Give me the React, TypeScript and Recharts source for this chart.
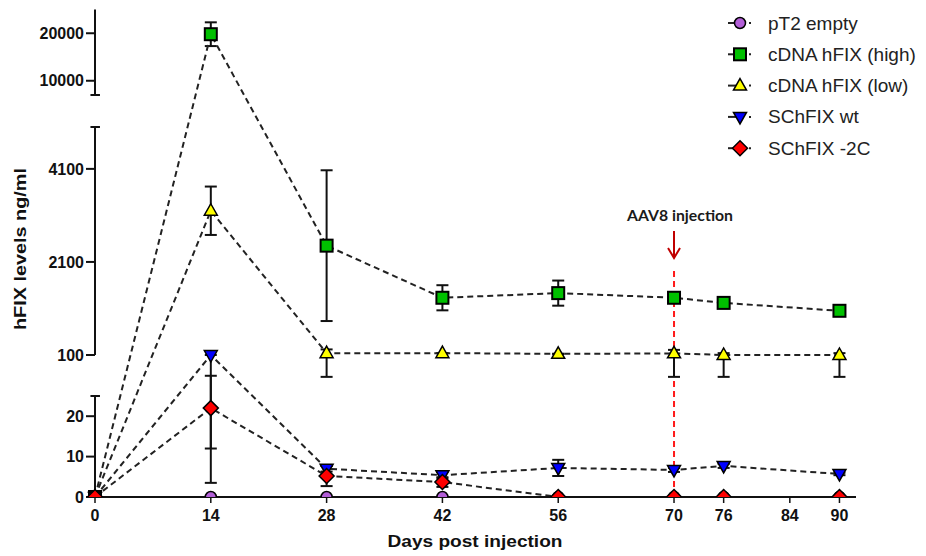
import React from 'react';
import { LineChart, Line, XAxis, YAxis, ErrorBar, ReferenceLine, ReferenceDot, Legend } from 'recharts';

// days post injection
const days = [0, 14, 28, 42, 56, 70, 76, 90];
const dayTicks = [0, 14, 28, 42, 56, 70, 76, 84, 90];
const levelTicks = [0, 10, 20, 100, 2100, 4100, 10000, 20000];

// hFIX levels ng/ml, errors as [minus, plus]
const pT2Empty = [0, 0, 0, 0, 0, 0, 0, 0];
const pT2EmptyErr = [[0, 0], [0, 0], [0, 0], [0, 0], [0, 0], [0, 0], [0, 0], [0, 0]];
const cdnaHigh = [0, 19800, 2450, 1330, 1430, 1330, 1220, 1050];
const cdnaHighErr = [[0, 0], [2500, 2500], [1620, 1620], [270, 270], [270, 270], [90, 90], [80, 80], [80, 80]];
const cdnaLow = [0, 3200, 140, 140, 125, 135, 100, 100];
const cdnaLowErr = [[0, 0], [520, 520], [80, 80], [0, 0], [0, 0], [75, 75], [40, 40], [40, 40]];
const schfixWt = [0, 100, 7, 5.4, 7.2, 6.7, 7.7, 5.7];
const schfixWtErr = [[0, 0], [96.5, 0], [0.7, 0.7], [0.8, 0.8], [2, 2], [0.5, 0.5], [0.5, 0.5], [0.3, 0.3]];
const schfix2C = [0, 22, 5.2, 3.7, 0, 0, 0, 0];
const schfix2CErr = [[0, 0], [10, 40], [2.5, 2.5], [1.2, 1.2], [0, 0], [0, 0], [0, 0], [0, 0]];

// broken y axis: value breakpoints and their height (px) above the x axis
const breakValues = [0, 25, 100, 5000, 7000, 25000];
const breakHeights = [0, 101, 142, 370, 402, 487.5];
const axisPieces = [[0, 25], [100, 5000], [7000, 25000]];
const axisCaps = [25, 5000, 7000];

const FONT = "'Liberation Sans', Arial, sans-serif";

const toAxis = (v: number) => {
  const x = Math.max(0, v);
  for (let i = 0; i < breakValues.length - 1; i++) {
    if (x <= breakValues[i + 1] || i === breakValues.length - 2) {
      const t = (x - breakValues[i]) / (breakValues[i + 1] - breakValues[i]);
      return breakHeights[i] + t * (breakHeights[i + 1] - breakHeights[i]);
    }
  }
  return 0;
};

const series = [
  { key: 'pT2', name: 'pT2 empty', values: pT2Empty, errors: pT2EmptyErr, shape: 'circle', fill: '#b35fd8' },
  { key: 'high', name: 'cDNA hFIX (high)', values: cdnaHigh, errors: cdnaHighErr, shape: 'square', fill: '#00c000' },
  { key: 'low', name: 'cDNA hFIX (low)', values: cdnaLow, errors: cdnaLowErr, shape: 'triUp', fill: '#ffff00' },
  { key: 'wt', name: 'SChFIX wt', values: schfixWt, errors: schfixWtErr, shape: 'triDown', fill: '#0000ff' },
  { key: 'c2', name: 'SChFIX -2C', values: schfix2C, errors: schfix2CErr, shape: 'diamond', fill: '#ff0000' },
];

const rows = days.map((day, i) => {
  const row: any = { day };
  series.forEach(s => {
    const v = s.values[i];
    const [lo, hi] = s.errors[i];
    const t = toAxis(v);
    row[s.key] = t;
    row[s.key + 'Err'] = [t - toAxis(v - lo), toAxis(v + hi) - t];
  });
  return row;
});

const drawMarker = (shape: string, x: number, y: number, fill: string) => {
  const st = { fill, stroke: '#000', strokeWidth: 1.5 };
  if (shape === 'circle') return <circle cx={x} cy={y} r={5.5} {...st} />;
  if (shape === 'square') return <rect x={x - 6} y={y - 6} width={12} height={12} {...st} strokeWidth={2} />;
  if (shape === 'triUp') return <polygon points={`${x},${y - 7} ${x + 6.5},${y + 4.5} ${x - 6.5},${y + 4.5}`} {...st} />;
  if (shape === 'triDown') return <polygon points={`${x - 6.5},${y - 4.5} ${x + 6.5},${y - 4.5} ${x},${y + 7}`} {...st} />;
  return <polygon points={`${x},${y - 7.5} ${x + 7.5},${y} ${x},${y + 7.5} ${x - 7.5},${y}`} {...st} />;
};

const makeDot = (shape: string, fill: string) => (props: any) => {
  const { cx, cy, index } = props;
  if (cx == null || cy == null) return <g key={index} />;
  return <g key={index}>{drawMarker(shape, cx, cy, fill)}</g>;
};

// legend rows follow the series order (recharts sorts the payload by name)
const renderLegend = () => (
  <svg width={206} height={165}>
    {series.map((s, i) => {
      const cy = 15 + i * 31.3;
      return (
        <g key={s.key}>
          <line x1={8} x2={16} y1={cy} y2={cy} stroke="#222" strokeWidth={2} />
          <line x1={29} x2={31} y1={cy} y2={cy} stroke="#222" strokeWidth={2} />
          {drawMarker(s.shape, 20, cy, s.fill)}
          <text x={48} y={cy} dominantBaseline="central" fontSize={19} fill="#222" fontFamily={FONT}>
            {s.name}
          </text>
        </g>
      );
    })}
  </svg>
);

const tickLabel = (d: number) => {
  const found = levelTicks.find(v => Math.abs(toAxis(v) - d) < 0.01);
  return found === undefined ? '' : String(found);
};

const YTitle = () => (
  <text x={12} y={241} transform="rotate(-90 12 241)" textAnchor="middle" dominantBaseline="central"
    fontSize={17} fontWeight="bold" fill="#111" fontFamily={FONT} textLength={162} lengthAdjust="spacingAndGlyphs">
    hFIX levels ng/ml
  </text>
);

const XTitle = () => (
  <text x={467} y={539} textAnchor="middle" fontSize={17} fontWeight="bold" fill="#111" fontFamily={FONT}
    textLength={175} lengthAdjust="spacingAndGlyphs">
    Days post injection
  </text>
);

const InjectionMark = (props: any) => {
  const { cx, cy } = props;
  return (
    <g>
      <line x1={cx} x2={cx} y1={cy - 27} y2={cy} stroke="#c00000" strokeWidth={2} />
      <polyline points={`${cx - 6},${cy - 10} ${cx},${cy} ${cx + 6},${cy - 10}`} fill="none" stroke="#c00000" strokeWidth={2} />
      <text x={cx + 6} y={cy - 37} textAnchor="middle" fontSize={15} fontWeight="bold" fill="#1a1a1a"
        fontFamily="Lato, 'Liberation Sans', sans-serif" textLength={106} lengthAdjust="spacingAndGlyphs">
        AAV8 injection
      </text>
    </g>
  );
};

export default function App() {
  return (
    <div style={{ width: 918, height: 548, fontFamily: FONT }}>
      <LineChart width={918} height={548} data={rows} margin={{ top: 1.5, right: 70, bottom: 9, left: 0 }}>
        <XAxis
          type="number"
          dataKey="day"
          domain={[0, 92]}
          ticks={dayTicks}
          interval={0}
          height={50}
          tickSize={6}
          tickMargin={7}
          axisLine={{ stroke: '#111', strokeWidth: 2 }}
          tickLine={{ stroke: '#111', strokeWidth: 1.5 }}
          tick={{ fill: '#111', fontSize: 16, fontWeight: 'bold', fontFamily: FONT }}
          label={{ content: XTitle }}
        />
        <YAxis
          type="number"
          domain={[0, 487.5]}
          allowDataOverflow
          ticks={levelTicks.map(toAxis)}
          interval={0}
          width={87}
          tickSize={9}
          axisLine={false}
          tickLine={{ stroke: '#111', strokeWidth: 2 }}
          tickFormatter={tickLabel}
          tick={{ fill: '#111', fontSize: 16, fontWeight: 'bold', fontFamily: FONT }}
          label={{ content: YTitle }}
        />
        {axisPieces.map(([a, b]) => (
          <ReferenceLine key={'p' + a} ifOverflow="visible" stroke="#111" strokeWidth={2}
            segment={[{ x: 0, y: toAxis(a) }, { x: 0, y: toAxis(b) }]} />
        ))}
        {axisCaps.map(v => (
          <ReferenceLine key={'c' + v} ifOverflow="visible" stroke="#111" strokeWidth={2}
            segment={[{ x: -0.55, y: toAxis(v) }, { x: 0.6, y: toAxis(v) }]} />
        ))}
        <ReferenceLine ifOverflow="visible" stroke="#ff1a1a" strokeWidth={2} strokeDasharray="6 4"
          segment={[{ x: 70, y: 0 }, { x: 70, y: 229 }]} />
        <ReferenceDot x={70} y={239} ifOverflow="visible" shape={InjectionMark} />
        <Legend
          layout="vertical"
          align="center"
          verticalAlign="middle"
          content={renderLegend}
          wrapperStyle={{ top: 0, left: 712, width: 206, height: 165 }}
        />
        {series.map(s => (
          <Line
            key={s.key}
            type="linear"
            dataKey={s.key}
            name={s.name}
            stroke="#222"
            strokeWidth={2}
            strokeDasharray="6 4"
            dot={makeDot(s.shape, s.fill)}
            activeDot={false}
            isAnimationActive={false}
          >
            <ErrorBar dataKey={s.key + 'Err'} direction="y" width={6} strokeWidth={2} stroke="#111" />
          </Line>
        ))}
      </LineChart>
    </div>
  );
}
